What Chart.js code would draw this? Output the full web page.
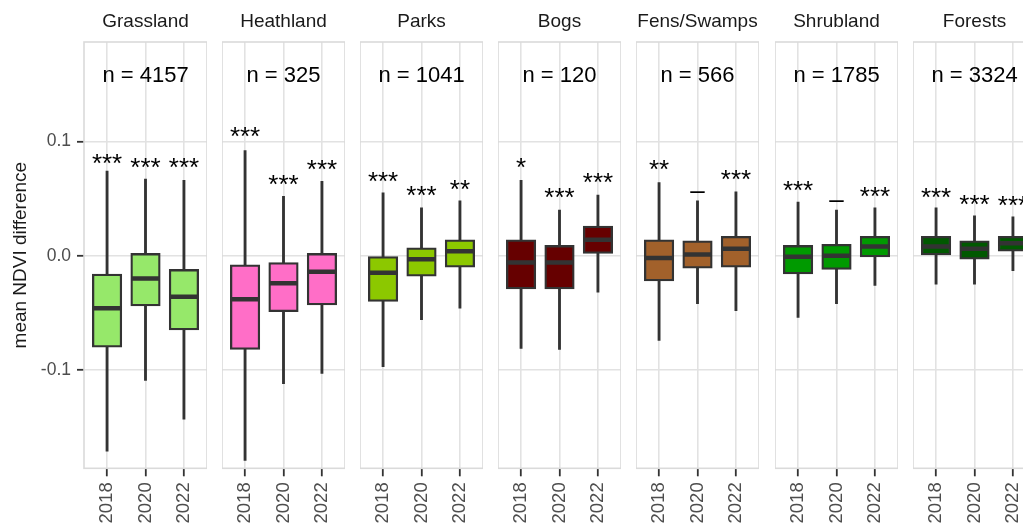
<!DOCTYPE html>
<html>
<head>
<meta charset="utf-8">
<script src="https://cdn.jsdelivr.net/npm/chart.js@4.4.1/dist/chart.umd.min.js"></script>
<style>
  body { margin: 0; width: 1023px; height: 523px; overflow: hidden; background: #fff; position: relative; }
  canvas { position: absolute; top: 0; }
</style>
</head>
<body>
<script>
// Facets and categories
const habitats = ["Grassland", "Heathland", "Parks", "Bogs", "Fens/Swamps", "Shrubland", "Forests"];
const years = ["2018", "2020", "2022"];
const nCounts = [4157, 325, 1041, 120, 566, 1785, 3324];
const fillColors = ["#96e86a", "#ff6ec7", "#8cc800", "#660000", "#a2612b", "#009a00", "#005800"];

// Box statistics per habitat, one value per year
const whiskerHigh = [
  [0.074, 0.067, 0.066], [0.092, 0.052, 0.065], [0.055, 0.042, 0.048], [0.066, 0.040, 0.053],
  [0.064, 0.048, 0.056], [0.047, 0.040, 0.042], [0.042, 0.035, 0.034]
];
const q3Vals = [
  [-0.016, 0.002, -0.012], [-0.008, -0.006, 0.002], [0.000, 0.007, 0.014], [0.014, 0.009, 0.026],
  [0.014, 0.013, 0.017], [0.009, 0.010, 0.017], [0.017, 0.013, 0.017]
];
const medians = [
  [-0.046, -0.020, -0.036], [-0.038, -0.024, -0.014], [-0.015, -0.003, 0.004], [-0.006, -0.006, 0.014],
  [-0.002, 0.001, 0.006], [-0.001, 0.000, 0.008], [0.008, 0.006, 0.011]
];
const q1Vals = [
  [-0.080, -0.044, -0.065], [-0.082, -0.049, -0.043], [-0.040, -0.018, -0.010], [-0.029, -0.029, 0.002],
  [-0.022, -0.011, -0.010], [-0.016, -0.012, -0.001], [0.000, -0.003, 0.004]
];
const whiskerLow = [
  [-0.171, -0.109, -0.143], [-0.179, -0.112, -0.103], [-0.097, -0.056, -0.046], [-0.081, -0.082, -0.032],
  [-0.074, -0.042, -0.048], [-0.054, -0.042, -0.026], [-0.025, -0.025, -0.013]
];

// Significance labels and where they sit (data units)
const sigLabels = [
  ["***", "***", "***"], ["***", "***", "***"], ["***", "***", "**"], ["*", "***", "***"],
  ["**", "\u2013", "***"], ["***", "\u2013", "***"], ["***", "***", "***"]
];
const sigY = [
  [0.085, 0.081, 0.081], [0.108, 0.066, 0.079], [0.069, 0.057, 0.062], [0.081, 0.055, 0.068],
  [0.079, 0.0555, 0.071], [0.061, 0.048, 0.056], [0.055, 0.049, 0.048]
];

const yTicks = [-0.1, 0, 0.1];
const yMin = -0.186, yMax = 0.187;

Chart.defaults.font.family = "'Liberation Sans', Arial, sans-serif";

const gridColor = "#e2e2e2";
const axisW = 84, panelW = 123, stride = 138.1;

// Draws panel frame, sample size text and significance marks
const panelDecor = {
  id: "panelDecor",
  beforeDatasetsDraw(chart) {
    const a = chart.chartArea, ctx = chart.ctx;
    ctx.save();
    ctx.strokeStyle = "#dadada";
    ctx.lineWidth = 1.6;
    ctx.strokeRect(a.left, a.top, a.right - a.left, a.bottom - a.top);
    ctx.restore();
  },
  afterDatasetsDraw(chart, args, opts) {
    const ctx = chart.ctx, a = chart.chartArea;
    const xs = chart.scales.x, ys = chart.scales.y;
    ctx.save();
    ctx.fillStyle = "#000";
    ctx.textAlign = "center";
    ctx.textBaseline = "alphabetic";
    ctx.font = "22px 'Liberation Sans', Arial, sans-serif";
    ctx.fillText("n = " + opts.n, (a.left + a.right) / 2, a.top + 40);

    ctx.font = "26px 'Liberation Sans', Arial, sans-serif";
    opts.labels.forEach((txt, i) => {
      const m = ctx.measureText(txt);
      const yc = ys.getPixelForValue(opts.ys[i]);
      const base = yc + (m.actualBoundingBoxAscent - m.actualBoundingBoxDescent) / 2;
      ctx.fillText(txt, xs.getPixelForValue(i), base);
    });
    ctx.restore();
  }
};

habitats.forEach((name, h) => {
  const first = h === 0;
  const canvas = document.createElement("canvas");
  const left = Math.round(84 + stride * h) - (first ? axisW : 0);
  canvas.width = panelW + (first ? axisW : 0);
  canvas.height = 523;
  canvas.style.left = left + "px";
  document.body.appendChild(canvas);

  const boxes = years.map((y, i) => ({ x: i, y: [q1Vals[h][i], q3Vals[h][i]] }));
  const whiskers = years.map((y, i) => ({ x: i, y: [whiskerLow[h][i], whiskerHigh[h][i]] }));
  const mids = years.map((y, i) => ({ x: i, y: medians[h][i] }));

  new Chart(canvas.getContext("2d"), {
    type: "bar",
    data: {
      datasets: [
        {
          type: "line",
          data: mids,
          showLine: false,
          pointStyle: "line",
          pointRadius: 14.5,
          pointBorderWidth: 4.5,
          pointBorderColor: "#333333",
          pointBackgroundColor: "#333333"
        },
        {
          data: boxes,
          backgroundColor: fillColors[h],
          borderColor: "#333333",
          borderWidth: 2.3,
          borderSkipped: false,
          barThickness: 29.5,
          grouped: false
        },
        {
          data: whiskers,
          backgroundColor: "#333333",
          borderWidth: 0,
          barThickness: 2.2,
          grouped: false
        }
      ]
    },
    options: {
      responsive: false,
      animation: false,
      layout: { padding: 0, autoPadding: false },
      plugins: {
        legend: { display: false },
        tooltip: { enabled: false },
        title: {
          display: true,
          text: name,
          fullSize: false,
          color: "#1a1a1a",
          font: { size: 19, weight: "normal" },
          padding: { top: 10, bottom: 9.2 }
        },
        panelDecor: { n: nCounts[h], labels: sigLabels[h], ys: sigY[h] }
      },
      scales: {
        x: {
          type: "linear",
          min: -0.6,
          max: 2.6,
          offset: false,
          afterBuildTicks: s => { s.ticks = years.map((y, i) => ({ value: i })); },
          afterFit: s => { s.height = 54.7; s.paddingLeft = 0; s.paddingRight = 0; },
          grid: { offset: false, color: gridColor, lineWidth: 1.6, tickColor: "#333333", tickLength: 8, tickWidth: 1.8 },
          border: { display: false },
          ticks: {
            autoSkip: false,
            minRotation: 90,
            maxRotation: 90,
            padding: 6,
            color: "#4d4d4d",
            font: { size: 18.5 },
            callback: v => years[v]
          }
        },
        y: {
          min: yMin,
          max: yMax,
          afterBuildTicks: s => { s.ticks = yTicks.map(v => ({ value: v })); },
          afterFit: s => { s.width = first ? axisW : 0; s.paddingTop = 0; s.paddingBottom = 0; },
          grid: {
            color: gridColor,
            lineWidth: 1.6,
            drawTicks: first,
            tickColor: "#333333",
            tickLength: 7,
            tickWidth: 1.8
          },
          border: { display: false },
          ticks: {
            display: first,
            padding: 6,
            color: "#4d4d4d",
            font: { size: 17.5 },
            callback: v => v.toFixed(1)
          },
          title: {
            display: first,
            text: "mean NDVI difference",
            color: "#1a1a1a",
            font: { size: 19 },
            padding: { top: 9, bottom: 0 }
          }
        }
      }
    },
    plugins: [panelDecor]
  });
});
</script>
</body>
</html>
